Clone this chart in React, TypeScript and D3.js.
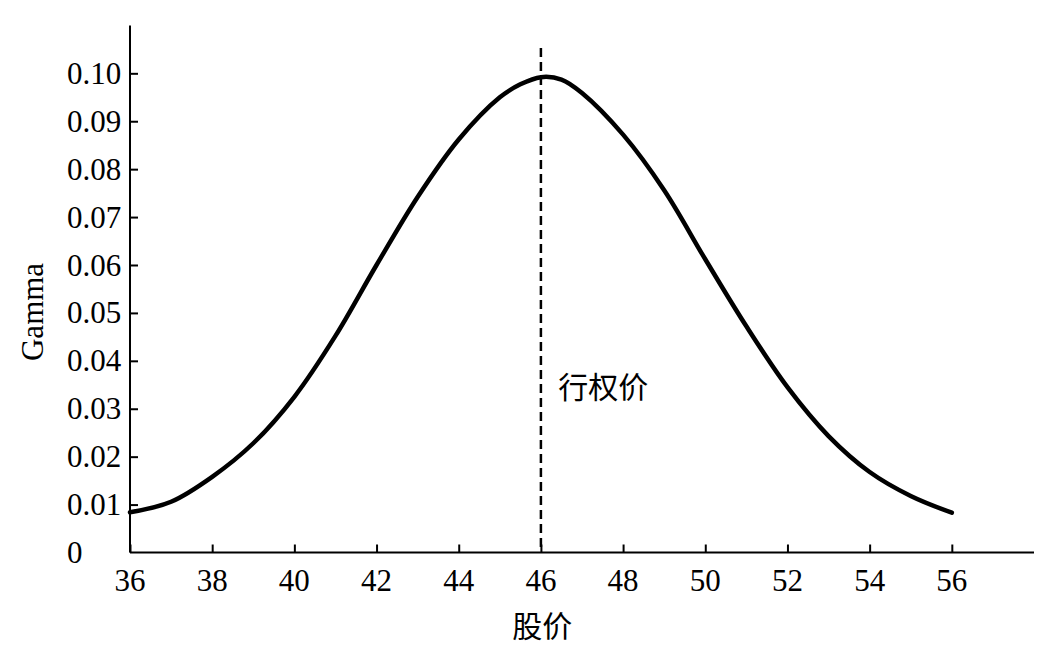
import { useEffect, useRef } from "react";
import * as d3 from "d3";

const width = 1049;
const height = 661;
const margin = { top: 25.4, right: 15, bottom: 108.5, left: 130 };

// 股价 (x) and Gamma (y)
const stockPrices = [
  36, 37, 38, 39, 40, 41, 42, 43, 44, 45, 45.5, 46, 46.5, 47, 48, 49, 50, 51, 52, 53, 54, 55, 56,
];
const gammaValues = [
  0.0084, 0.0106, 0.0158, 0.0228, 0.0325, 0.0452, 0.06, 0.0742, 0.0862, 0.095, 0.0977, 0.0992,
  0.0987, 0.0959, 0.0872, 0.0756, 0.0612, 0.0472, 0.0345, 0.0243, 0.0168, 0.0118, 0.0083,
];

const xTicks = [36, 38, 40, 42, 44, 46, 48, 50, 52, 54, 56];
const yTicks = [0, 0.01, 0.02, 0.03, 0.04, 0.05, 0.06, 0.07, 0.08, 0.09, 0.1];
const yTickLabels = ["0", "0.01", "0.02", "0.03", "0.04", "0.05", "0.06", "0.07", "0.08", "0.09", "0.10"];

const strikePrice = 46;
const strikeLabel = "行权价";
const xTitle = "股价";
const yTitle = "Gamma";

const serif = "'Liberation Serif', 'DejaVu Serif', serif";
const cjk = "'Noto Sans CJK SC', sans-serif";

export default function App() {
  const svgRef = useRef<SVGSVGElement | null>(null);

  useEffect(() => {
    document.body.style.margin = "0";
    if (!svgRef.current) return;
    const svg = d3.select(svgRef.current);
    svg.selectAll("*").remove();

    const x = d3.scaleLinear().domain([36, 58]).range([margin.left, width - margin.right]);
    const y = d3.scaleLinear().domain([0, 0.11]).range([height - margin.bottom, margin.top]);

    const points = stockPrices.map((p, i) => [p, gammaValues[i]] as [number, number]);

    // curve
    const line = d3
      .line<[number, number]>()
      .x((d) => x(d[0]))
      .y((d) => y(d[1]))
      .curve(d3.curveCatmullRom.alpha(0.5));

    svg
      .append("path")
      .attr("d", line(points))
      .attr("fill", "none")
      .attr("stroke", "#000")
      .attr("stroke-width", 4.5)
      .attr("stroke-linecap", "round")
      .attr("stroke-linejoin", "round");

    // strike line
    svg
      .append("line")
      .attr("x1", x(strikePrice))
      .attr("x2", x(strikePrice))
      .attr("y1", y(0.1053))
      .attr("y2", y(0))
      .attr("stroke", "#000")
      .attr("stroke-width", 2.5)
      .attr("stroke-dasharray", "9 5");

    // axes (ticks point inward)
    const xAxis = svg
      .append("g")
      .attr("transform", `translate(0, ${y(0)})`)
      .call(d3.axisTop(x).tickValues(xTicks).tickSize(8).tickFormat(() => ""));
    xAxis.select(".domain").attr("stroke-width", 2).attr("d", `M${x(36)},0H${x(58)}`);
    xAxis.selectAll(".tick line").attr("stroke-width", 2);

    const yAxis = svg
      .append("g")
      .attr("transform", `translate(${x(36)}, 0)`)
      .call(d3.axisRight(y).tickValues(yTicks.slice(1)).tickSize(8).tickFormat(() => ""));
    yAxis.select(".domain").attr("stroke-width", 2).attr("d", `M0,${y(0.11)}V${y(0)}`);
    yAxis.selectAll(".tick line").attr("stroke-width", 2);

    // tick labels
    svg
      .append("g")
      .selectAll("text")
      .data(xTicks)
      .join("text")
      .attr("x", (d) => x(d))
      .attr("y", y(0) + 38)
      .attr("text-anchor", "middle")
      .style("font-family", serif)
      .style("font-size", "31px")
      .text((d) => String(d));

    svg
      .append("g")
      .selectAll("text")
      .data(yTicks)
      .join("text")
      .attr("x", 67)
      .attr("y", (d) => y(d))
      .attr("dy", "0.34em")
      .attr("text-anchor", "start")
      .style("font-family", serif)
      .style("font-size", "31px")
      .text((_, i) => yTickLabels[i]);

    // titles
    svg
      .append("text")
      .attr("transform", `translate(43, ${y(0.0502)}) rotate(-90)`)
      .attr("text-anchor", "middle")
      .style("font-family", serif)
      .style("font-size", "31px")
      .text(yTitle);

    svg
      .append("text")
      .attr("x", x(46.03))
      .attr("y", 637)
      .attr("text-anchor", "middle")
      .style("font-family", cjk)
      .style("font-size", "30px")
      .text(xTitle);

    svg
      .append("text")
      .attr("x", x(46.42))
      .attr("y", y(0.0322))
      .attr("text-anchor", "start")
      .style("font-family", cjk)
      .style("font-size", "30px")
      .text(strikeLabel);
  }, []);

  return <svg ref={svgRef} width={width} height={height} style={{ display: "block", background: "#fff" }} />;
}
